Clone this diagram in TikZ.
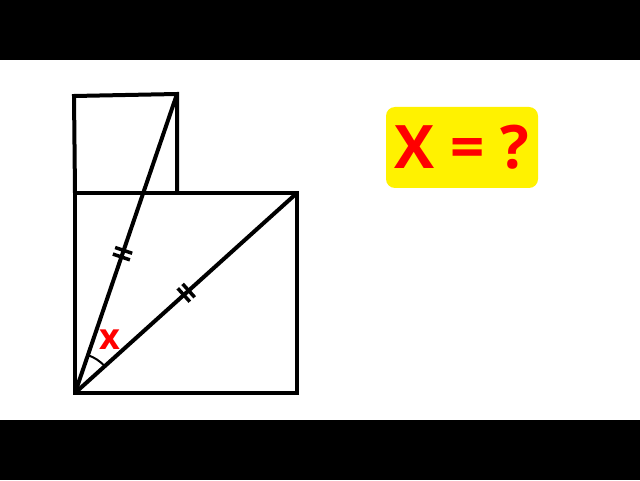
\documentclass[tikz,border=0pt]{standalone}
\usepackage{fontspec}
\setmainfont{Open Sans}
\usetikzlibrary{calc}
\begin{document}
\begin{tikzpicture}[x=1pt,y=1pt,
  edge/.style={line width=4pt,line join=miter},
  tickmark/.style={line width=3.5pt},
  bar/.style={fill=black,draw=none}]
\useasboundingbox (0,0) rectangle (640,480);
\fill[white] (0,0) rectangle (640,480);
\path[bar] (0,420) rectangle (640,480);
\path[bar] (0,0) rectangle (640,60);
% points
\coordinate (A) at (75,87);
\coordinate (B) at (297,87);
\coordinate (C) at (297,287);
\coordinate (D) at (75,287);
\coordinate (E) at (74,384);
\coordinate (F) at (177,386);
\coordinate (G) at (177,287);
% squares
\draw[edge] (A) -- (B) -- (C) -- (D) -- cycle;
\draw[edge] (D) -- (E) -- (F) -- (G);
% diagonals
\draw[edge] (A) -- (F);
\draw[edge] (A) -- (C);
% ticks
\coordinate (P1) at ($(A)!0.455!(F)$);
\coordinate (P2) at ($(A)!0.477!(F)$);
\coordinate (Q1) at ($(A)!0.49!(C)$);
\coordinate (Q2) at ($(A)!0.512!(C)$);
\foreach \p/\t in {P1/F,P2/F,Q1/C,Q2/C}{
  \draw[tickmark] ($(\p)!9pt!90:(\t)$) -- ($(\p)!9pt!-90:(\t)$);
}
% angle
\draw[line width=2pt] ($(A)+(42:40pt)$) arc[start angle=42,end angle=71.2,radius=40pt];
\node[text=red,font=\fontsize{36}{36}\selectfont\bfseries,inner sep=0pt] (xl) at (110,140) {x};
% answer box
\node[fill=yellow,rounded corners=9pt,minimum width=152pt,minimum height=81pt,inner sep=0pt] (box) at (462,332.5) {};
\node[text=red,font=\fontsize{60}{60}\selectfont\bfseries,inner sep=0pt] (q) at (box.center) {X = ?};
\end{tikzpicture}
\end{document}
